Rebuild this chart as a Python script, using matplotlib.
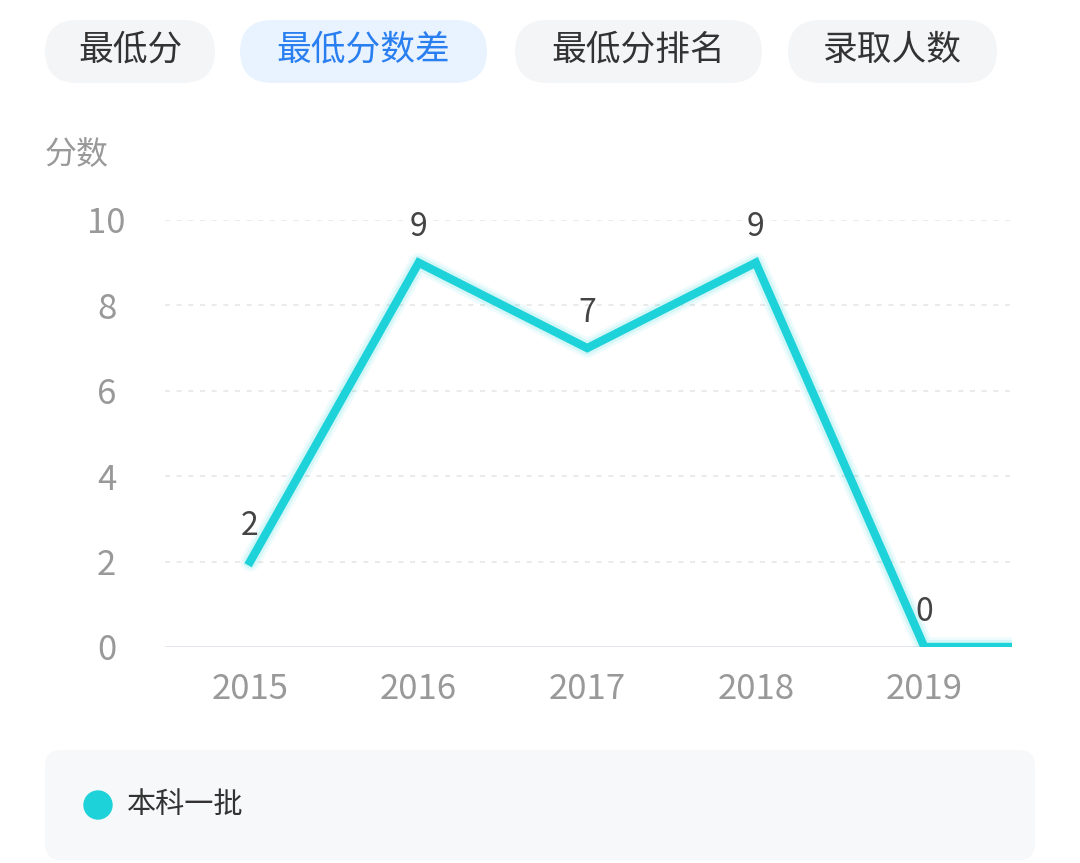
import matplotlib
matplotlib.use('Agg')
import matplotlib.pyplot as plt
from matplotlib.patches import FancyBboxPatch, Ellipse

plt.rcParams['font.family'] = ['Noto Sans CJK SC', 'DejaVu Sans']

years = ['2015', '2016', '2017', '2018', '2019']
values = [2, 9, 7, 9, 0]
tail_value = 0  # line runs on past 2019 to the edge
tabs = ['最低分', '最低分数差', '最低分排名', '录取人数']
series_name = '本科一批'
line_color = '#1ed2d9'

W, H = 1080, 863
fig = plt.figure(figsize=(W / 100, H / 100), dpi=100)
fig.patch.set_facecolor('white')


def fx(px):
    return px / W


def fy(py):
    return 1 - py / H


# tab buttons
tab_boxes = [(45, 215), (240, 487), (515, 762), (788, 997)]
for i, (name, (x0, x1)) in enumerate(zip(tabs, tab_boxes)):
    active = i == 1
    fig.patches.append(FancyBboxPatch(
        (fx(x0), fy(83)), fx(x1 - x0), (83 - 20) / H,
        boxstyle='round,pad=0,rounding_size=0.03', transform=fig.transFigure,
        facecolor='#e8f3ff' if active else '#f4f5f7', edgecolor='none',
        mutation_aspect=W / H))
    fig.text(fx((x0 + x1) / 2), fy(50), name, ha='center', va='center',
             fontsize=25, color='#2a7ff0' if active else '#333333')

# legend box
fig.patches.append(FancyBboxPatch(
    (fx(45), fy(860)), fx(990), 110 / H,
    boxstyle='round,pad=0,rounding_size=0.015', transform=fig.transFigure,
    facecolor='#f7f8fa', edgecolor='none', mutation_aspect=W / H))
fig.patches.append(Ellipse((fx(98), fy(805)), 28 / W, 28 / H,
                           transform=fig.transFigure, color=line_color))
fig.text(fx(127), fy(805), series_name, va='center', fontsize=21, color='#333333')

fig.text(fx(45), fy(155), '分数', va='center', fontsize=23, color='#999999')

ax = fig.add_axes([fx(165), fy(647), fx(847), 427 / H])
xs = list(range(len(years))) + [len(years)]
ys = values + [tail_value]
for lw, a in [(14, 0.08), (10, 0.12)]:
    ax.plot(xs, ys, color=line_color, lw=lw, alpha=a, solid_capstyle='round')
ax.plot(xs, ys, color=line_color, lw=6, solid_joinstyle='miter')
for i, v in enumerate(values):
    ax.annotate(str(v), (i, v), xytext=(0, 14), textcoords='offset points',
                ha='center', va='bottom', fontsize=23, color='#444444')

ax.set_xlim(-0.505, 4.52)
ax.set_ylim(0, 10)
ax.set_xticks(range(len(years)))
ax.set_xticklabels(years)
ax.set_yticks(range(0, 11, 2))
ax.tick_params(length=0, labelsize=25, labelcolor='#999999')
ax.tick_params(axis='x', pad=18)
ax.tick_params(axis='y', pad=42)
for lbl in ax.get_yticklabels():
    lbl.set_horizontalalignment('center')
for y in range(2, 11, 2):
    ax.axhline(y, color='#e6e6e6', lw=1.2, ls=(0, (3, 4)), zorder=0)
for s in ax.spines.values():
    s.set_visible(False)
ax.axhline(0, color='#e0e2f0', lw=2, zorder=0)
ax.set_facecolor('none')

fig.savefig('out.png', dpi=100)
